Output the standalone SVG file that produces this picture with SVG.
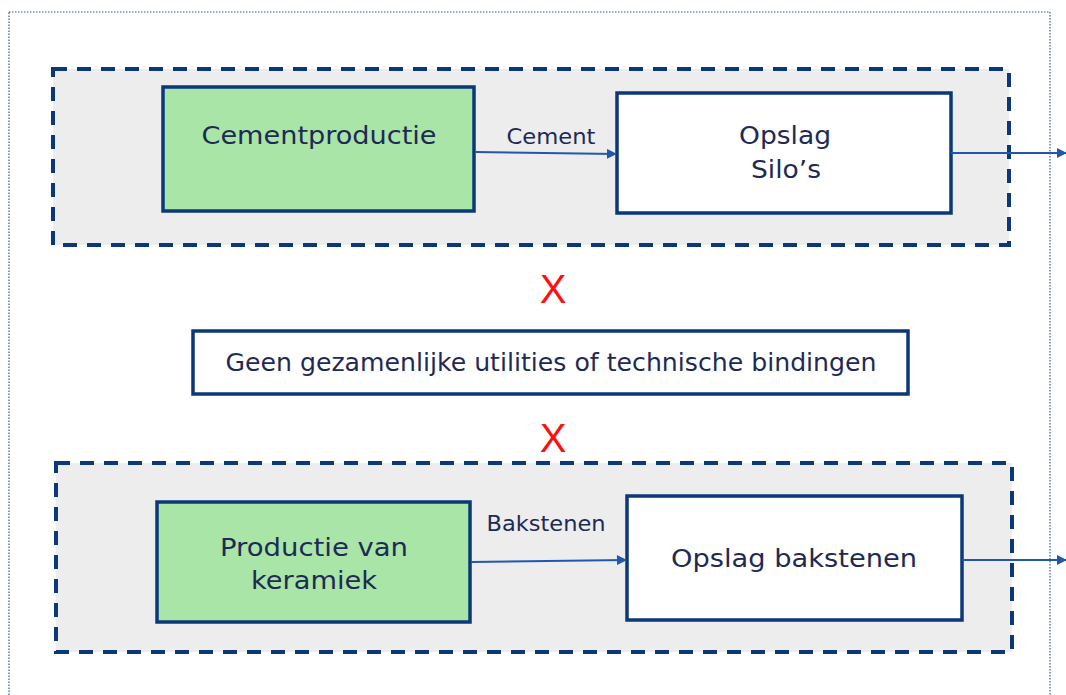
<svg xmlns="http://www.w3.org/2000/svg" width="1066" height="695" viewBox="0 0 1066 695">
<defs>
<marker id="ah" viewBox="0 0 10 10" refX="9" refY="5" markerWidth="11" markerHeight="10" orient="auto" markerUnits="userSpaceOnUse">
<path d="M0,0 L10,5 L0,10 z" fill="#2257b0"/>
</marker>
<style>
.t{font-family:"DejaVu Sans",Verdana,sans-serif;fill:#1e2a55;text-anchor:middle;font-size:24px}
.l{font-size:21px}
.grp{fill:#ededed;stroke:#0b3879;stroke-width:4;stroke-dasharray:14 10}
.box{stroke:#0b3879;stroke-width:3.5}
.conn{stroke:#2257b0;stroke-width:2;fill:none}
.x{font-family:"Liberation Sans",Arial,sans-serif;fill:#ff1010;text-anchor:middle;font-size:40px}
</style>
</defs>
<rect width="1066" height="695" fill="#fff"/>
<rect x="9" y="12" width="1041" height="700" fill="none" stroke="#2f5a9e" stroke-width="1.2" stroke-dasharray="1.5 1.5"/>
<g id="group-top"><rect class="grp" x="53" y="69" width="956" height="176"/></g>
<g id="group-bottom"><rect class="grp" x="56" y="463" width="956" height="189"/></g>
<g id="cementproductie"><rect class="box" x="163" y="87" width="311" height="124" fill="#a9e5a6"/><text class="t" x="319" y="144" textLength="235" lengthAdjust="spacingAndGlyphs">Cementproductie</text></g>
<g id="opslag-silos"><rect class="box" x="617" y="93" width="334" height="120" fill="#fff"/><text class="t" x="785" y="144" textLength="92" lengthAdjust="spacingAndGlyphs">Opslag</text><text class="t" x="786" y="178" textLength="70" lengthAdjust="spacingAndGlyphs">Silo’s</text></g>
<g id="geen"><rect class="box" x="193" y="331" width="715" height="63" fill="#fff"/><text class="t" x="551" y="371" font-size="23" textLength="651" lengthAdjust="spacingAndGlyphs">Geen gezamenlijke utilities of technische bindingen</text></g>
<g id="productie-keramiek"><rect class="box" x="157" y="502" width="313" height="120" fill="#a9e5a6"/><text class="t" x="314" y="556" textLength="188" lengthAdjust="spacingAndGlyphs">Productie van</text><text class="t" x="314" y="589" textLength="126" lengthAdjust="spacingAndGlyphs">keramiek</text></g>
<g id="opslag-bakstenen"><rect class="box" x="627" y="496" width="335" height="124" fill="#fff"/><text class="t" x="794" y="567" textLength="246" lengthAdjust="spacingAndGlyphs">Opslag bakstenen</text></g>
<g id="x1"><text class="x" x="553" y="303">X</text></g>
<g id="x2"><text class="x" x="553" y="452">X</text></g>
<g id="connectors">
<line class="conn" x1="475" y1="152" x2="616" y2="154" marker-end="url(#ah)"/>
<line class="conn" x1="951" y1="153" x2="1066" y2="153" marker-end="url(#ah)"/>
<line class="conn" x1="471" y1="562" x2="626" y2="560" marker-end="url(#ah)"/>
<line class="conn" x1="962" y1="560" x2="1066" y2="560" marker-end="url(#ah)"/>
</g>
<text class="t l" x="551" y="144" textLength="89" lengthAdjust="spacingAndGlyphs">Cement</text>
<text class="t l" x="546" y="531" textLength="119" lengthAdjust="spacingAndGlyphs">Bakstenen</text>
</svg>
